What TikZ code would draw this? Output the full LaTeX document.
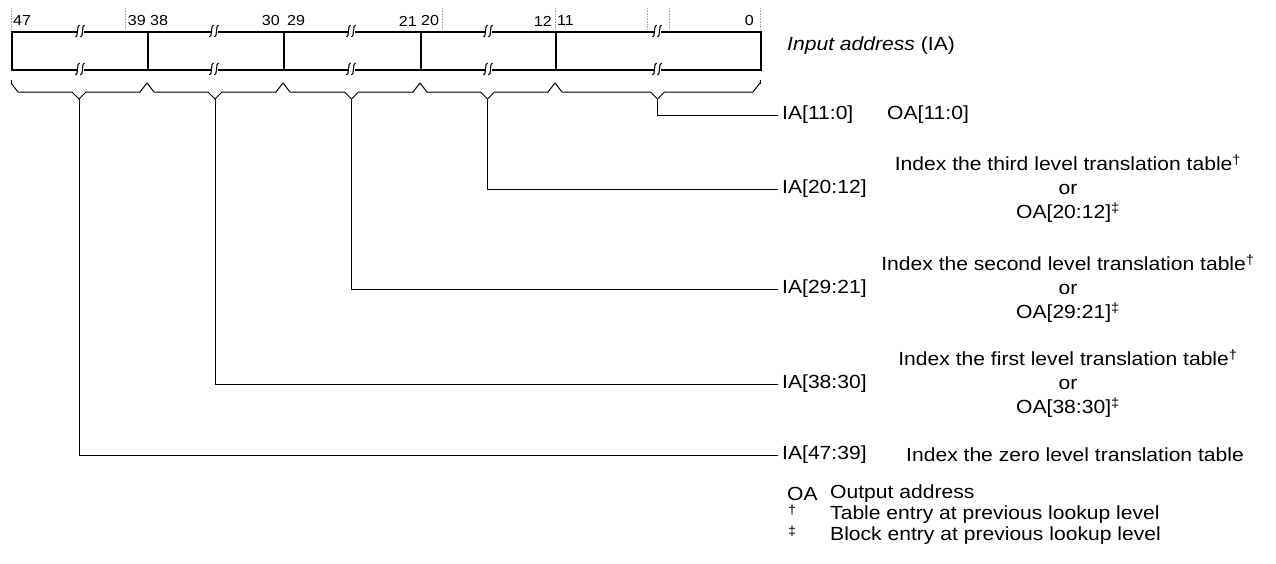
\documentclass[tikz,border=0pt]{standalone}
\usepackage{fontspec}
\setmainfont{Liberation Sans}[FakeStretch=1.11]
\begin{document}
\begin{tikzpicture}[x=1pt,y=-1pt,
  field/.style={draw,line width=2pt,minimum height=38pt,inner sep=0pt,anchor=north west},
  thinline/.style={line width=1pt},
  lab/.style={font=\fontsize{19}{21}\selectfont,inner sep=0pt},
  bitlab/.style={font=\fontsize{14.5}{16}\selectfont,inner sep=0pt},
  guide/.style={densely dotted,gray!70,line width=0.6pt}]
\useasboundingbox (0,0) rectangle (1276,563);
% dotted guides
\foreach \gx in {11,125,442,555,647,669,760}
  \draw[guide] (\gx,8) -- (\gx,30);
% bit numbers
\node[bitlab,anchor=west] (n47) at (13,21) {47};
\node[bitlab,anchor=east] (n39) at (146,21) {39};
\node[bitlab,anchor=west] (n38) at (150,21) {38};
\node[bitlab,anchor=east] (n30) at (280,21) {30};
\node[bitlab,anchor=west] (n29) at (287,21) {29};
\node[bitlab,anchor=east] (n21) at (417,21) {21};
\node[bitlab,anchor=west] (n20) at (421,21) {20};
\node[bitlab,anchor=east] (n12) at (552,21) {12};
\node[bitlab,anchor=west] (n11) at (557,21) {11};
\node[bitlab,anchor=east] (n0) at (754,21) {0};
% fields
\node[field,minimum width=136pt] (f1) at (11,31) {};
\node[field,minimum width=136pt] (f2) at (147,31) {};
\node[field,minimum width=137pt] (f3) at (283,31) {};
\node[field,minimum width=135pt] (f4) at (420,31) {};
\node[field,minimum width=205pt] (f5) at (555,31) {};
% break marks
\foreach \bx in {80,214,351,488,657}
  \foreach \by in {31,69} {
    \fill[white] (\bx-3.5,\by-1.6) rectangle (\bx+3.5,\by+1.6);
    \draw[line width=1.1pt] (\bx-4.5,\by+6) .. controls (\bx-1.5,\by+6.5) and (\bx-3.5,\by-6.5) .. (\bx-0.5,\by-6);
    \draw[line width=1.1pt] (\bx+0.5,\by+6) .. controls (\bx+3.5,\by+6.5) and (\bx+1.5,\by-6.5) .. (\bx+4.5,\by-6);
  }
% input address label
\node[lab,anchor=west] (ialabel) at (787,46) {\textit{Input address} (IA)};
% braces
\foreach \xl/\xr/\nm in {11/147/s1,147/283/s2,283/420/s3,420/555/s4,555/760/s5} {
  \pgfmathsetmacro{\xc}{(\xl+\xr)/2}
  \draw[thinline] (\xl,83) -- (\xl+7,92) -- (\xc-7,92) -- (\xc,99) -- (\xc+7,92) -- (\xr-7,92) -- (\xr,83);
  \coordinate (\nm) at (\xc,99);
}
\draw[thinline] (11,80) -- (11,84);
\draw[thinline] (760,80) -- (760,84);
% IA labels
\node[lab,anchor=west] (ia0) at (782,115) {IA[11:0]};
\node[lab,anchor=west] (ia1) at (782,189) {IA[20:12]};
\node[lab,anchor=west] (ia2) at (782,289) {IA[29:21]};
\node[lab,anchor=west] (ia3) at (782,384) {IA[38:30]};
\node[lab,anchor=west] (ia4) at (782,455) {IA[47:39]};
% connectors
\draw[thinline] (s5) |- ([xshift=-4pt]ia0.west);
\draw[thinline] (s4) |- ([xshift=-4pt]ia1.west);
\draw[thinline] (s3) |- ([xshift=-4pt]ia2.west);
\draw[thinline] (s2) |- ([xshift=-4pt]ia3.west);
\draw[thinline] (s1) |- ([xshift=-4pt]ia4.west);
% descriptions
\node[lab,anchor=west] (d0) at (887,115) {OA[11:0]};
\node[lab] (d1a) at (1068,163) {Index the third level translation table\textsuperscript{†}};
\node[lab] (d1b) at (1068,189) {or};
\node[lab] (d1c) at (1068,213) {OA[20:12]\textsuperscript{‡}};
\node[lab] (d2a) at (1068,263) {Index the second level translation table\textsuperscript{†}};
\node[lab] (d2b) at (1068,289) {or};
\node[lab] (d2c) at (1068,313) {OA[29:21]\textsuperscript{‡}};
\node[lab] (d3a) at (1068,358) {Index the first level translation table\textsuperscript{†}};
\node[lab] (d3b) at (1068,384) {or};
\node[lab] (d3c) at (1068,408) {OA[38:30]\textsuperscript{‡}};
\node[lab,anchor=west] (d4) at (906,455) {Index the zero level translation table};
% legend
\node[lab,anchor=west] (k1) at (787,494) {OA};
\node[lab,anchor=west] (v1) at (830,494) {Output address};
\node[lab,anchor=west,font=\fontsize{13}{15}\selectfont] (k2) at (788,510) {†};
\node[lab,anchor=west] (v2) at (830,515) {Table entry at previous lookup level};
\node[lab,anchor=west,font=\fontsize{13}{15}\selectfont] (k3) at (788,531) {‡};
\node[lab,anchor=west] (v3) at (830,536) {Block entry at previous lookup level};
\end{tikzpicture}
\end{document}
